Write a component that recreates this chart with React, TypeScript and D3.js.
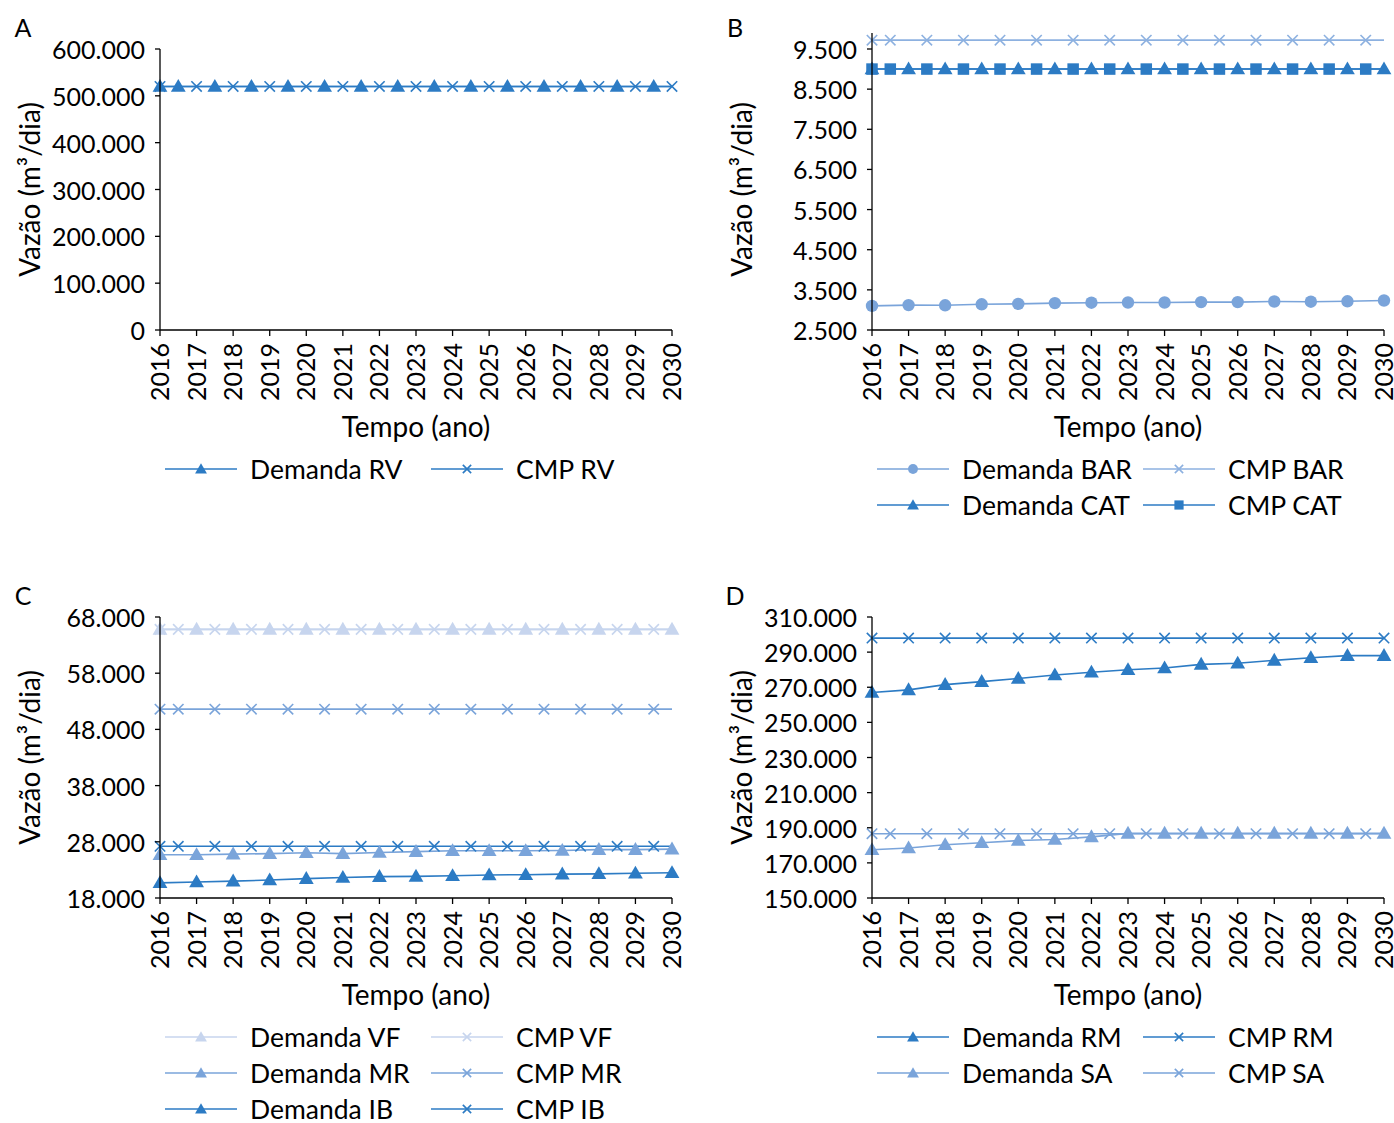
import React from 'react';
import * as d3 from 'd3';

// anos (eixo x)
const years = [2016, 2017, 2018, 2019, 2020, 2021, 2022, 2023, 2024, 2025, 2026, 2027, 2028, 2029, 2030];
// alguns pontos da planilha caem no meio do ano
const halfYears = [2016, 2016.5, 2017.5, 2018.5, 2019.5, 2020.5, 2021.5, 2022.5, 2023.5, 2024.5, 2025.5, 2026.5, 2027.5, 2028.5, 2029.5];

// A
const demandaRV = [520000, 520000, 520000, 520000, 520000, 520000, 520000, 520000, 520000, 520000, 520000, 520000, 520000, 520000, 520000];
const cmpRV = [520000, 520000, 520000, 520000, 520000, 520000, 520000, 520000, 520000, 520000, 520000, 520000, 520000, 520000, 520000];

// B
const demandaBAR = [3100, 3120, 3115, 3140, 3150, 3170, 3180, 3185, 3185, 3195, 3195, 3210, 3205, 3215, 3235];
const cmpBAR = [9720, 9720, 9720, 9720, 9720, 9720, 9720, 9720, 9720, 9720, 9720, 9720, 9720, 9720, 9720];
const demandaCAT = [9000, 9000, 9000, 9000, 9000, 9000, 9000, 9000, 9000, 9000, 9000, 9000, 9000, 9000, 9000];
const cmpCAT = [9000, 9000, 9000, 9000, 9000, 9000, 9000, 9000, 9000, 9000, 9000, 9000, 9000, 9000, 9000];

// C
const demandaVF = [65800, 65800, 65800, 65800, 65800, 65800, 65800, 65800, 65800, 65800, 65800, 65800, 65800, 65800, 65800];
const cmpVF = [65800, 65800, 65800, 65800, 65800, 65800, 65800, 65800, 65800, 65800, 65800, 65800, 65800, 65800, 65800];
const demandaMR = [25700, 25700, 25800, 25900, 26050, 25900, 26100, 26250, 26400, 26400, 26400, 26450, 26600, 26600, 26700];
const cmpMR = [51600, 51600, 51600, 51600, 51600, 51600, 51600, 51600, 51600, 51600, 51600, 51600, 51600, 51600, 51600];
const demandaIB = [20700, 20850, 21000, 21200, 21450, 21650, 21800, 21850, 21950, 22100, 22150, 22250, 22300, 22400, 22500];
const cmpIB = [27200, 27200, 27200, 27200, 27200, 27200, 27200, 27200, 27200, 27200, 27200, 27200, 27200, 27200, 27200];

// D
const demandaRM = [267000, 268500, 271500, 273200, 275000, 277000, 278500, 280000, 281000, 283000, 283700, 285300, 286800, 288000, 288000];
const cmpRM = [298000, 298000, 298000, 298000, 298000, 298000, 298000, 298000, 298000, 298000, 298000, 298000, 298000, 298000, 298000];
const demandaSA = [177500, 178500, 180300, 181500, 182700, 183300, 184800, 186800, 186800, 186800, 186800, 186800, 186800, 186800, 186800];
const cmpSA = [186600, 186600, 186600, 186600, 186600, 186600, 186600, 186600, 186600, 186600, 186600, 186600, 186600, 186600, 186600];

// eixos y
const ticksA = [0, 100000, 200000, 300000, 400000, 500000, 600000];
const ticksB = [2500, 3500, 4500, 5500, 6500, 7500, 8500, 9500];
const ticksC = [18000, 28000, 38000, 48000, 58000, 68000];
const ticksD = [150000, 170000, 190000, 210000, 230000, 250000, 270000, 290000, 310000];

const dark = '#2C7BC4';
const mid = '#7AA4DA';
const midLight = '#8DB1E0';
const light = '#C7D5EE';

const FONT = 'Lato, "Open Sans", sans-serif';
const fmt = d3.formatLocale({ decimal: ',', thousands: '.', grouping: [3], currency: ['R$', ''] }).format(',d');

type Marker = 'triangle' | 'cross' | 'square' | 'circle';
interface Serie {
  name: string;
  x: number[];
  y: number[];
  color: string;
  marker: Marker;
}

function MarkerShape({ type, color, cx, cy, small }: { type: Marker; color: string; cx: number; cy: number; small?: boolean }) {
  const k = small ? 0.8 : 1;
  if (type === 'cross') {
    const r = 5.2 * k;
    return (
      <g stroke={color} strokeWidth={1.6}>
        <line x1={cx - r} y1={cy - r} x2={cx + r} y2={cy + r} />
        <line x1={cx - r} y1={cy + r} x2={cx + r} y2={cy - r} />
      </g>
    );
  }
  if (type === 'square') {
    const s = 11.5 * k;
    return <rect x={cx - s / 2} y={cy - s / 2} width={s} height={s} fill={color} />;
  }
  if (type === 'circle') {
    return <circle cx={cx} cy={cy} r={6.2 * k} fill={color} />;
  }
  const path = d3.symbol(d3.symbolTriangle, 95 * k * k)() || '';
  return <path d={path} transform={`translate(${cx},${cy + 1})`} fill={color} />;
}

interface PanelProps {
  letter: string;
  ox: number;
  oy: number;
  yTicks: number[];
  yMax: number;
  series: Serie[];
}

function Panel({ letter, ox, oy, yTicks, yMax, series }: PanelProps) {
  const left = ox + 160;
  const width = 512;
  const bottom = oy + 330;
  const topTick = oy + 49;

  const x = d3.scaleLinear().domain([years[0], years[years.length - 1]]).range([left, left + width]);
  const y = d3.scaleLinear().domain([yTicks[0], yTicks[yTicks.length - 1]]).range([bottom, topTick]);
  const axisTop = y(yMax);
  const xEnd = years[years.length - 1];

  const line = d3.line<[number, number]>().x((d) => x(d[0])).y((d) => y(d[1]));

  return (
    <g>
      <text x={ox + 23} y={oy + 27} fontSize={25} textAnchor="middle" dominantBaseline="central" fontFamily={FONT}>{letter}</text>

      {/* linhas */}
      {series.map((s) => {
        const pts: [number, number][] = s.x.map((v, i) => [v, s.y[i]]);
        const last = pts[pts.length - 1];
        if (last[0] < xEnd) pts.push([xEnd, last[1]]);
        return <path key={s.name} d={line(pts) || ''} fill="none" stroke={s.color} strokeWidth={1.6} />;
      })}
      {/* marcadores */}
      {series.map((s) => (
        <g key={s.name + 'm'}>
          {s.x.map((v, i) => (
            <MarkerShape key={i} type={s.marker} color={s.color} cx={x(v)} cy={y(s.y[i])} />
          ))}
        </g>
      ))}

      {/* eixo y */}
      <line x1={left} x2={left} y1={bottom} y2={axisTop} stroke="#000" strokeWidth={1.3} />
      {yTicks.map((t) => (
        <g key={t}>
          <line x1={left - 5} x2={left} y1={y(t)} y2={y(t)} stroke="#000" strokeWidth={1.3} />
          <text x={left - 15} y={y(t)} textAnchor="end" dominantBaseline="central" fontSize={25} fontFamily={FONT}>{fmt(t)}</text>
        </g>
      ))}
      <text
        transform={`translate(${left - 131},${(bottom + topTick) / 2}) rotate(-90)`}
        textAnchor="middle"
        dominantBaseline="central"
        fontSize={28}
        fontFamily={FONT}
      >
        Vazão (m³/dia)
      </text>

      {/* eixo x */}
      <line x1={left} x2={left + width} y1={bottom} y2={bottom} stroke="#000" strokeWidth={1.3} />
      {years.map((yr) => (
        <g key={yr}>
          <line x1={x(yr)} x2={x(yr)} y1={bottom} y2={bottom + 6} stroke="#000" strokeWidth={1.3} />
          <text
            transform={`translate(${x(yr) - 1},${bottom + 13}) rotate(-90)`}
            textAnchor="end"
            dominantBaseline="central"
            fontSize={25}
            fontFamily={FONT}
          >
            {yr}
          </text>
        </g>
      ))}
      <text x={left + width / 2} y={bottom + 96} textAnchor="middle" dominantBaseline="central" fontSize={28} fontFamily={FONT}>
        Tempo (ano)
      </text>

      {/* legenda */}
      {series.map((s, i) => {
        const row = Math.floor(i / 2);
        const col = i % 2;
        const lx = left + 5 + col * 266;
        const ly = oy + 469 + row * 36;
        return (
          <g key={s.name + 'l'}>
            <line x1={lx} x2={lx + 72} y1={ly} y2={ly} stroke={s.color} strokeWidth={1.6} />
            <MarkerShape type={s.marker} color={s.color} cx={lx + 36} cy={ly} small />
            <text x={lx + 85} y={ly} dominantBaseline="central" fontSize={26.5} fontFamily={FONT}>{s.name}</text>
          </g>
        );
      })}
    </g>
  );
}

const seriesA: Serie[] = [
  { name: 'Demanda RV', x: halfYears, y: demandaRV, color: dark, marker: 'triangle' },
  { name: 'CMP RV', x: years, y: cmpRV, color: dark, marker: 'cross' },
];
const seriesB: Serie[] = [
  { name: 'Demanda BAR', x: years, y: demandaBAR, color: mid, marker: 'circle' },
  { name: 'CMP BAR', x: halfYears, y: cmpBAR, color: midLight, marker: 'cross' },
  { name: 'Demanda CAT', x: years, y: demandaCAT, color: dark, marker: 'triangle' },
  { name: 'CMP CAT', x: halfYears, y: cmpCAT, color: dark, marker: 'square' },
];
const seriesC: Serie[] = [
  { name: 'Demanda VF', x: years, y: demandaVF, color: light, marker: 'triangle' },
  { name: 'CMP VF', x: halfYears, y: cmpVF, color: light, marker: 'cross' },
  { name: 'Demanda MR', x: years, y: demandaMR, color: mid, marker: 'triangle' },
  { name: 'CMP MR', x: halfYears, y: cmpMR, color: mid, marker: 'cross' },
  { name: 'Demanda IB', x: years, y: demandaIB, color: dark, marker: 'triangle' },
  { name: 'CMP IB', x: halfYears, y: cmpIB, color: dark, marker: 'cross' },
];
const seriesD: Serie[] = [
  { name: 'Demanda RM', x: years, y: demandaRM, color: dark, marker: 'triangle' },
  { name: 'CMP RM', x: years, y: cmpRM, color: dark, marker: 'cross' },
  { name: 'Demanda SA', x: years, y: demandaSA, color: mid, marker: 'triangle' },
  { name: 'CMP SA', x: halfYears, y: cmpSA, color: mid, marker: 'cross' },
];

export default function App() {
  return (
    <svg width={1394} height={1123} style={{ position: 'absolute', left: 0, top: 0, background: '#fff' }}>
      <Panel letter="A" ox={0} oy={0} yTicks={ticksA} yMax={600000} series={seriesA} />
      <Panel letter="B" ox={712} oy={0} yTicks={ticksB} yMax={9900} series={seriesB} />
      <Panel letter="C" ox={0} oy={568} yTicks={ticksC} yMax={68000} series={seriesC} />
      <Panel letter="D" ox={712} oy={568} yTicks={ticksD} yMax={310000} series={seriesD} />
    </svg>
  );
}
